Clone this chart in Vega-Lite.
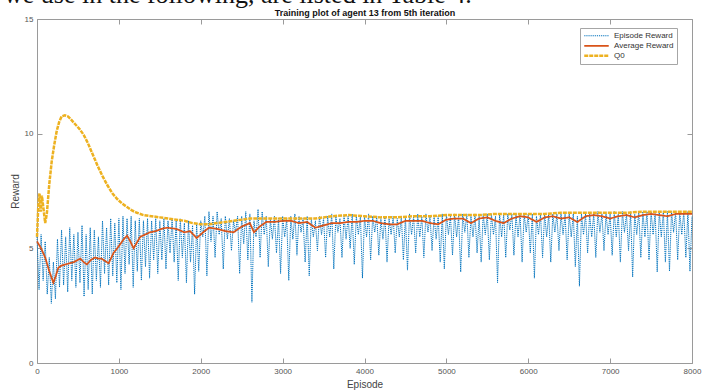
{
  "$schema": "https://vega.github.io/schema/vega-lite/v6.json",
  "width": 655,
  "height": 344,
  "autosize": {"type": "none"},
  "padding": {"left": 37, "top": 19, "right": 23, "bottom": 27},
  "background": "white",
  "title": {"text": "we use in the following, are listed in Table 4.", "anchor": "start", "frame": "group", "dx": -33, "offset": 1, "font": "Liberation Serif", "fontSize": 26, "fontWeight": "normal", "color": "#111111"},
  "config": {
    "font": "Liberation Sans",
    "view": {"stroke": "#9a9a9a", "strokeWidth": 1},
    "axis": {"grid": false, "domain": false, "tickColor": "#9a9a9a", "tickSize": -5, "labelColor": "#555555", "titleColor": "#444444", "labelFontSize": 8, "titleFontSize": 10, "titleFontWeight": "normal", "labelFlush": false, "labelOverlap": false},
    "legend": {"orient": "none", "legendX": 543, "legendY": 9, "title": null, "strokeColor": "#a6a6a6", "fillColor": "white", "padding": 3, "labelFontSize": 8, "labelColor": "#333333", "symbolType": "stroke", "symbolSize": 600, "labelOffset": 4, "rowPadding": 0, "clipHeight": 9.5}
  },
  "data": {"values": [
    {"series":"Episode Reward","episode":0,"reward":5.5},{"series":"Episode Reward","episode":25,"reward":3.2},{"series":"Episode Reward","episode":50,"reward":5.6},{"series":"Episode Reward","episode":75,"reward":3.6},{"series":"Episode Reward","episode":100,"reward":5.3},{"series":"Episode Reward","episode":125,"reward":3.0},{"series":"Episode Reward","episode":150,"reward":4.6},{"series":"Episode Reward","episode":175,"reward":2.6},{"series":"Episode Reward","episode":200,"reward":4.4},{"series":"Episode Reward","episode":225,"reward":2.8},
    {"series":"Episode Reward","episode":250,"reward":5.4},{"series":"Episode Reward","episode":275,"reward":3.3},{"series":"Episode Reward","episode":300,"reward":5.8},{"series":"Episode Reward","episode":325,"reward":3.4},{"series":"Episode Reward","episode":350,"reward":5.5},{"series":"Episode Reward","episode":375,"reward":3.1},{"series":"Episode Reward","episode":400,"reward":5.9},{"series":"Episode Reward","episode":425,"reward":3.6},{"series":"Episode Reward","episode":450,"reward":5.6},{"series":"Episode Reward","episode":475,"reward":3.3},
    {"series":"Episode Reward","episode":500,"reward":5.7},{"series":"Episode Reward","episode":525,"reward":3.5},{"series":"Episode Reward","episode":550,"reward":6.0},{"series":"Episode Reward","episode":575,"reward":2.9},{"series":"Episode Reward","episode":600,"reward":5.6},{"series":"Episode Reward","episode":625,"reward":3.2},{"series":"Episode Reward","episode":650,"reward":5.9},{"series":"Episode Reward","episode":675,"reward":3.0},{"series":"Episode Reward","episode":700,"reward":5.8},{"series":"Episode Reward","episode":725,"reward":3.6},
    {"series":"Episode Reward","episode":750,"reward":5.5},{"series":"Episode Reward","episode":775,"reward":3.3},{"series":"Episode Reward","episode":800,"reward":6.2},{"series":"Episode Reward","episode":825,"reward":3.9},{"series":"Episode Reward","episode":850,"reward":5.9},{"series":"Episode Reward","episode":875,"reward":3.4},{"series":"Episode Reward","episode":900,"reward":6.3},{"series":"Episode Reward","episode":925,"reward":3.8},{"series":"Episode Reward","episode":950,"reward":6.1},{"series":"Episode Reward","episode":975,"reward":3.5},
    {"series":"Episode Reward","episode":1000,"reward":6.3},{"series":"Episode Reward","episode":1025,"reward":3.2},{"series":"Episode Reward","episode":1050,"reward":6.4},{"series":"Episode Reward","episode":1075,"reward":3.9},{"series":"Episode Reward","episode":1100,"reward":6.3},{"series":"Episode Reward","episode":1125,"reward":4.3},{"series":"Episode Reward","episode":1150,"reward":6.4},{"series":"Episode Reward","episode":1175,"reward":3.3},{"series":"Episode Reward","episode":1200,"reward":6.2},{"series":"Episode Reward","episode":1225,"reward":4.0},
    {"series":"Episode Reward","episode":1250,"reward":6.3},{"series":"Episode Reward","episode":1275,"reward":3.6},{"series":"Episode Reward","episode":1300,"reward":6.2},{"series":"Episode Reward","episode":1325,"reward":4.2},{"series":"Episode Reward","episode":1350,"reward":6.3},{"series":"Episode Reward","episode":1375,"reward":3.7},{"series":"Episode Reward","episode":1400,"reward":6.2},{"series":"Episode Reward","episode":1425,"reward":4.5},{"series":"Episode Reward","episode":1450,"reward":6.3},{"series":"Episode Reward","episode":1475,"reward":3.9},
    {"series":"Episode Reward","episode":1500,"reward":6.2},{"series":"Episode Reward","episode":1525,"reward":4.5},{"series":"Episode Reward","episode":1550,"reward":6.3},{"series":"Episode Reward","episode":1575,"reward":4.1},{"series":"Episode Reward","episode":1600,"reward":6.2},{"series":"Episode Reward","episode":1625,"reward":4.8},{"series":"Episode Reward","episode":1650,"reward":6.3},{"series":"Episode Reward","episode":1675,"reward":4.4},{"series":"Episode Reward","episode":1700,"reward":6.2},{"series":"Episode Reward","episode":1725,"reward":3.6},
    {"series":"Episode Reward","episode":1750,"reward":6.3},{"series":"Episode Reward","episode":1775,"reward":4.6},{"series":"Episode Reward","episode":1800,"reward":6.1},{"series":"Episode Reward","episode":1825,"reward":3.5},{"series":"Episode Reward","episode":1850,"reward":6.2},{"series":"Episode Reward","episode":1875,"reward":4.4},{"series":"Episode Reward","episode":1900,"reward":6.0},{"series":"Episode Reward","episode":1925,"reward":3.0},{"series":"Episode Reward","episode":1950,"reward":6.1},{"series":"Episode Reward","episode":1975,"reward":4.0},
    {"series":"Episode Reward","episode":2000,"reward":6.2},{"series":"Episode Reward","episode":2025,"reward":5.5},{"series":"Episode Reward","episode":2050,"reward":6.4},{"series":"Episode Reward","episode":2075,"reward":3.8},{"series":"Episode Reward","episode":2100,"reward":6.6},{"series":"Episode Reward","episode":2125,"reward":5.3},{"series":"Episode Reward","episode":2150,"reward":6.4},{"series":"Episode Reward","episode":2175,"reward":4.6},{"series":"Episode Reward","episode":2200,"reward":6.6},{"series":"Episode Reward","episode":2225,"reward":5.6},
    {"series":"Episode Reward","episode":2250,"reward":6.3},{"series":"Episode Reward","episode":2275,"reward":4.1},{"series":"Episode Reward","episode":2300,"reward":6.4},{"series":"Episode Reward","episode":2325,"reward":5.4},{"series":"Episode Reward","episode":2350,"reward":6.3},{"series":"Episode Reward","episode":2375,"reward":4.9},{"series":"Episode Reward","episode":2400,"reward":6.2},{"series":"Episode Reward","episode":2425,"reward":5.7},{"series":"Episode Reward","episode":2450,"reward":6.4},{"series":"Episode Reward","episode":2475,"reward":3.9},
    {"series":"Episode Reward","episode":2500,"reward":6.4},{"series":"Episode Reward","episode":2525,"reward":5.2},{"series":"Episode Reward","episode":2550,"reward":6.6},{"series":"Episode Reward","episode":2575,"reward":4.5},{"series":"Episode Reward","episode":2600,"reward":6.5},{"series":"Episode Reward","episode":2625,"reward":2.65},{"series":"Episode Reward","episode":2650,"reward":6.2},{"series":"Episode Reward","episode":2675,"reward":5.5},{"series":"Episode Reward","episode":2700,"reward":6.7},{"series":"Episode Reward","episode":2725,"reward":4.6},
    {"series":"Episode Reward","episode":2750,"reward":6.6},{"series":"Episode Reward","episode":2775,"reward":5.6},{"series":"Episode Reward","episode":2800,"reward":6.4},{"series":"Episode Reward","episode":2825,"reward":4.2},{"series":"Episode Reward","episode":2850,"reward":6.3},{"series":"Episode Reward","episode":2875,"reward":5.4},{"series":"Episode Reward","episode":2900,"reward":6.4},{"series":"Episode Reward","episode":2925,"reward":4.8},{"series":"Episode Reward","episode":2950,"reward":6.3},{"series":"Episode Reward","episode":2975,"reward":3.9},
    {"series":"Episode Reward","episode":3000,"reward":6.4},{"series":"Episode Reward","episode":3025,"reward":5.5},{"series":"Episode Reward","episode":3050,"reward":6.3},{"series":"Episode Reward","episode":3075,"reward":3.6},{"series":"Episode Reward","episode":3100,"reward":6.4},{"series":"Episode Reward","episode":3125,"reward":5.4},{"series":"Episode Reward","episode":3150,"reward":6.5},{"series":"Episode Reward","episode":3175,"reward":4.7},{"series":"Episode Reward","episode":3200,"reward":6.4},{"series":"Episode Reward","episode":3225,"reward":5.7},
    {"series":"Episode Reward","episode":3250,"reward":6.3},{"series":"Episode Reward","episode":3275,"reward":4.4},{"series":"Episode Reward","episode":3300,"reward":6.4},{"series":"Episode Reward","episode":3325,"reward":3.8},{"series":"Episode Reward","episode":3350,"reward":6.3},{"series":"Episode Reward","episode":3375,"reward":5.5},{"series":"Episode Reward","episode":3400,"reward":6.2},{"series":"Episode Reward","episode":3425,"reward":4.9},{"series":"Episode Reward","episode":3450,"reward":6.4},{"series":"Episode Reward","episode":3475,"reward":5.6},
    {"series":"Episode Reward","episode":3500,"reward":6.3},{"series":"Episode Reward","episode":3525,"reward":4.6},{"series":"Episode Reward","episode":3550,"reward":6.4},{"series":"Episode Reward","episode":3575,"reward":5.5},{"series":"Episode Reward","episode":3600,"reward":6.5},{"series":"Episode Reward","episode":3625,"reward":4.1},{"series":"Episode Reward","episode":3650,"reward":6.4},{"series":"Episode Reward","episode":3675,"reward":5.7},{"series":"Episode Reward","episode":3700,"reward":6.3},{"series":"Episode Reward","episode":3725,"reward":4.6},
    {"series":"Episode Reward","episode":3750,"reward":6.4},{"series":"Episode Reward","episode":3775,"reward":5.4},{"series":"Episode Reward","episode":3800,"reward":6.4},{"series":"Episode Reward","episode":3825,"reward":5.0},{"series":"Episode Reward","episode":3850,"reward":6.5},{"series":"Episode Reward","episode":3875,"reward":4.3},{"series":"Episode Reward","episode":3900,"reward":6.4},{"series":"Episode Reward","episode":3925,"reward":5.6},{"series":"Episode Reward","episode":3950,"reward":6.4},{"series":"Episode Reward","episode":3975,"reward":3.7},
    {"series":"Episode Reward","episode":4000,"reward":6.4},{"series":"Episode Reward","episode":4025,"reward":5.5},{"series":"Episode Reward","episode":4050,"reward":6.5},{"series":"Episode Reward","episode":4075,"reward":4.5},{"series":"Episode Reward","episode":4100,"reward":6.4},{"series":"Episode Reward","episode":4125,"reward":5.7},{"series":"Episode Reward","episode":4150,"reward":6.4},{"series":"Episode Reward","episode":4175,"reward":4.7},{"series":"Episode Reward","episode":4200,"reward":6.3},{"series":"Episode Reward","episode":4225,"reward":5.4},
    {"series":"Episode Reward","episode":4250,"reward":6.4},{"series":"Episode Reward","episode":4275,"reward":4.4},{"series":"Episode Reward","episode":4300,"reward":6.3},{"series":"Episode Reward","episode":4325,"reward":5.6},{"series":"Episode Reward","episode":4350,"reward":6.4},{"series":"Episode Reward","episode":4375,"reward":4.8},{"series":"Episode Reward","episode":4400,"reward":6.3},{"series":"Episode Reward","episode":4425,"reward":5.5},{"series":"Episode Reward","episode":4450,"reward":6.4},{"series":"Episode Reward","episode":4475,"reward":4.5},
    {"series":"Episode Reward","episode":4500,"reward":6.4},{"series":"Episode Reward","episode":4525,"reward":4.05},{"series":"Episode Reward","episode":4550,"reward":6.5},{"series":"Episode Reward","episode":4575,"reward":5.6},{"series":"Episode Reward","episode":4600,"reward":6.4},{"series":"Episode Reward","episode":4625,"reward":4.8},{"series":"Episode Reward","episode":4650,"reward":6.5},{"series":"Episode Reward","episode":4675,"reward":5.5},{"series":"Episode Reward","episode":4700,"reward":6.4},{"series":"Episode Reward","episode":4725,"reward":4.6},
    {"series":"Episode Reward","episode":4750,"reward":6.5},{"series":"Episode Reward","episode":4775,"reward":5.7},{"series":"Episode Reward","episode":4800,"reward":6.4},{"series":"Episode Reward","episode":4825,"reward":4.9},{"series":"Episode Reward","episode":4850,"reward":6.4},{"series":"Episode Reward","episode":4875,"reward":5.4},{"series":"Episode Reward","episode":4900,"reward":6.4},{"series":"Episode Reward","episode":4925,"reward":4.4},{"series":"Episode Reward","episode":4950,"reward":6.5},{"series":"Episode Reward","episode":4975,"reward":4.1},
    {"series":"Episode Reward","episode":5000,"reward":6.5},{"series":"Episode Reward","episode":5025,"reward":5.6},{"series":"Episode Reward","episode":5050,"reward":6.4},{"series":"Episode Reward","episode":5075,"reward":4.7},{"series":"Episode Reward","episode":5100,"reward":6.5},{"series":"Episode Reward","episode":5125,"reward":5.5},{"series":"Episode Reward","episode":5150,"reward":6.4},{"series":"Episode Reward","episode":5175,"reward":3.97},{"series":"Episode Reward","episode":5200,"reward":6.5},{"series":"Episode Reward","episode":5225,"reward":5.7},
    {"series":"Episode Reward","episode":5250,"reward":6.5},{"series":"Episode Reward","episode":5275,"reward":4.6},{"series":"Episode Reward","episode":5300,"reward":6.4},{"series":"Episode Reward","episode":5325,"reward":5.5},{"series":"Episode Reward","episode":5350,"reward":6.5},{"series":"Episode Reward","episode":5375,"reward":4.8},{"series":"Episode Reward","episode":5400,"reward":6.4},{"series":"Episode Reward","episode":5425,"reward":4.4},{"series":"Episode Reward","episode":5450,"reward":6.5},{"series":"Episode Reward","episode":5475,"reward":5.6},
    {"series":"Episode Reward","episode":5500,"reward":6.5},{"series":"Episode Reward","episode":5525,"reward":4.5},{"series":"Episode Reward","episode":5550,"reward":6.5},{"series":"Episode Reward","episode":5575,"reward":5.6},{"series":"Episode Reward","episode":5600,"reward":6.4},{"series":"Episode Reward","episode":5625,"reward":3.5},{"series":"Episode Reward","episode":5650,"reward":6.5},{"series":"Episode Reward","episode":5675,"reward":5.5},{"series":"Episode Reward","episode":5700,"reward":6.5},{"series":"Episode Reward","episode":5725,"reward":4.6},
    {"series":"Episode Reward","episode":5750,"reward":6.5},{"series":"Episode Reward","episode":5775,"reward":5.8},{"series":"Episode Reward","episode":5800,"reward":6.5},{"series":"Episode Reward","episode":5825,"reward":4.7},{"series":"Episode Reward","episode":5850,"reward":6.5},{"series":"Episode Reward","episode":5875,"reward":5.5},{"series":"Episode Reward","episode":5900,"reward":6.5},{"series":"Episode Reward","episode":5925,"reward":4.4},{"series":"Episode Reward","episode":5950,"reward":6.5},{"series":"Episode Reward","episode":5975,"reward":5.7},
    {"series":"Episode Reward","episode":6000,"reward":6.5},{"series":"Episode Reward","episode":6025,"reward":4.8},{"series":"Episode Reward","episode":6050,"reward":6.5},{"series":"Episode Reward","episode":6075,"reward":3.7},{"series":"Episode Reward","episode":6100,"reward":6.4},{"series":"Episode Reward","episode":6125,"reward":5.6},{"series":"Episode Reward","episode":6150,"reward":6.5},{"series":"Episode Reward","episode":6175,"reward":4.6},{"series":"Episode Reward","episode":6200,"reward":6.5},{"series":"Episode Reward","episode":6225,"reward":5.5},
    {"series":"Episode Reward","episode":6250,"reward":6.5},{"series":"Episode Reward","episode":6275,"reward":4.4},{"series":"Episode Reward","episode":6300,"reward":6.5},{"series":"Episode Reward","episode":6325,"reward":5.7},{"series":"Episode Reward","episode":6350,"reward":6.5},{"series":"Episode Reward","episode":6375,"reward":4.9},{"series":"Episode Reward","episode":6400,"reward":6.5},{"series":"Episode Reward","episode":6425,"reward":5.6},{"series":"Episode Reward","episode":6450,"reward":6.5},{"series":"Episode Reward","episode":6475,"reward":4.5},
    {"series":"Episode Reward","episode":6500,"reward":6.5},{"series":"Episode Reward","episode":6525,"reward":5.5},{"series":"Episode Reward","episode":6550,"reward":6.5},{"series":"Episode Reward","episode":6575,"reward":4.2},{"series":"Episode Reward","episode":6600,"reward":6.4},{"series":"Episode Reward","episode":6625,"reward":3.35},{"series":"Episode Reward","episode":6650,"reward":6.5},{"series":"Episode Reward","episode":6675,"reward":5.6},{"series":"Episode Reward","episode":6700,"reward":6.5},{"series":"Episode Reward","episode":6725,"reward":4.8},
    {"series":"Episode Reward","episode":6750,"reward":6.5},{"series":"Episode Reward","episode":6775,"reward":5.5},{"series":"Episode Reward","episode":6800,"reward":6.5},{"series":"Episode Reward","episode":6825,"reward":4.6},{"series":"Episode Reward","episode":6850,"reward":6.6},{"series":"Episode Reward","episode":6875,"reward":5.7},{"series":"Episode Reward","episode":6900,"reward":6.5},{"series":"Episode Reward","episode":6925,"reward":4.9},{"series":"Episode Reward","episode":6950,"reward":6.5},{"series":"Episode Reward","episode":6975,"reward":5.6},
    {"series":"Episode Reward","episode":7000,"reward":6.5},{"series":"Episode Reward","episode":7025,"reward":4.7},{"series":"Episode Reward","episode":7050,"reward":6.6},{"series":"Episode Reward","episode":7075,"reward":5.5},{"series":"Episode Reward","episode":7100,"reward":6.5},{"series":"Episode Reward","episode":7125,"reward":4.4},{"series":"Episode Reward","episode":7150,"reward":6.6},{"series":"Episode Reward","episode":7175,"reward":5.7},{"series":"Episode Reward","episode":7200,"reward":6.5},{"series":"Episode Reward","episode":7225,"reward":4.9},
    {"series":"Episode Reward","episode":7250,"reward":6.6},{"series":"Episode Reward","episode":7275,"reward":3.75},{"series":"Episode Reward","episode":7300,"reward":6.5},{"series":"Episode Reward","episode":7325,"reward":5.6},{"series":"Episode Reward","episode":7350,"reward":6.6},{"series":"Episode Reward","episode":7375,"reward":4.6},{"series":"Episode Reward","episode":7400,"reward":6.6},{"series":"Episode Reward","episode":7425,"reward":5.5},{"series":"Episode Reward","episode":7450,"reward":6.6},{"series":"Episode Reward","episode":7475,"reward":4.5},
    {"series":"Episode Reward","episode":7500,"reward":6.6},{"series":"Episode Reward","episode":7525,"reward":5.6},{"series":"Episode Reward","episode":7550,"reward":6.6},{"series":"Episode Reward","episode":7575,"reward":3.97},{"series":"Episode Reward","episode":7600,"reward":6.6},{"series":"Episode Reward","episode":7625,"reward":5.5},{"series":"Episode Reward","episode":7650,"reward":6.6},{"series":"Episode Reward","episode":7675,"reward":4.4},{"series":"Episode Reward","episode":7700,"reward":6.6},{"series":"Episode Reward","episode":7725,"reward":4.0},
    {"series":"Episode Reward","episode":7750,"reward":6.6},{"series":"Episode Reward","episode":7775,"reward":5.7},{"series":"Episode Reward","episode":7800,"reward":6.6},{"series":"Episode Reward","episode":7825,"reward":4.5},{"series":"Episode Reward","episode":7850,"reward":6.6},{"series":"Episode Reward","episode":7875,"reward":5.6},{"series":"Episode Reward","episode":7900,"reward":6.6},{"series":"Episode Reward","episode":7925,"reward":4.6},{"series":"Episode Reward","episode":7950,"reward":6.6},{"series":"Episode Reward","episode":7975,"reward":4.0},
    {"series":"Episode Reward","episode":8000,"reward":6.4},

    {"series":"Average Reward","episode":0,"reward":5.3},{"series":"Average Reward","episode":50,"reward":5.0},{"series":"Average Reward","episode":100,"reward":4.6},{"series":"Average Reward","episode":150,"reward":4.0},{"series":"Average Reward","episode":200,"reward":3.5},{"series":"Average Reward","episode":230,"reward":3.8},{"series":"Average Reward","episode":260,"reward":4.15},{"series":"Average Reward","episode":300,"reward":4.25},{"series":"Average Reward","episode":350,"reward":4.3},{"series":"Average Reward","episode":400,"reward":4.35},
    {"series":"Average Reward","episode":450,"reward":4.4},{"series":"Average Reward","episode":500,"reward":4.5},{"series":"Average Reward","episode":530,"reward":4.55},{"series":"Average Reward","episode":570,"reward":4.4},{"series":"Average Reward","episode":610,"reward":4.3},{"series":"Average Reward","episode":660,"reward":4.5},{"series":"Average Reward","episode":710,"reward":4.6},{"series":"Average Reward","episode":750,"reward":4.55},{"series":"Average Reward","episode":790,"reward":4.55},{"series":"Average Reward","episode":830,"reward":4.45},
    {"series":"Average Reward","episode":875,"reward":4.35},{"series":"Average Reward","episode":935,"reward":4.8},{"series":"Average Reward","episode":980,"reward":5.0},{"series":"Average Reward","episode":1020,"reward":5.2},{"series":"Average Reward","episode":1060,"reward":5.4},{"series":"Average Reward","episode":1100,"reward":5.55},{"series":"Average Reward","episode":1140,"reward":5.3},{"series":"Average Reward","episode":1180,"reward":5.0},{"series":"Average Reward","episode":1220,"reward":5.25},{"series":"Average Reward","episode":1260,"reward":5.5},
    {"series":"Average Reward","episode":1320,"reward":5.6},{"series":"Average Reward","episode":1380,"reward":5.7},{"series":"Average Reward","episode":1450,"reward":5.75},{"series":"Average Reward","episode":1520,"reward":5.85},{"series":"Average Reward","episode":1590,"reward":5.9},{"series":"Average Reward","episode":1700,"reward":5.85},{"series":"Average Reward","episode":1800,"reward":5.7},{"series":"Average Reward","episode":1870,"reward":5.75},{"series":"Average Reward","episode":1950,"reward":5.45},{"series":"Average Reward","episode":2030,"reward":5.7},
    {"series":"Average Reward","episode":2100,"reward":5.9},{"series":"Average Reward","episode":2200,"reward":5.85},{"series":"Average Reward","episode":2300,"reward":5.75},{"series":"Average Reward","episode":2400,"reward":5.7},{"series":"Average Reward","episode":2500,"reward":5.95},{"series":"Average Reward","episode":2600,"reward":6.1},{"series":"Average Reward","episode":2650,"reward":5.7},{"series":"Average Reward","episode":2720,"reward":5.95},{"series":"Average Reward","episode":2800,"reward":6.15},{"series":"Average Reward","episode":2900,"reward":6.15},
    {"series":"Average Reward","episode":3000,"reward":6.2},{"series":"Average Reward","episode":3100,"reward":6.2},{"series":"Average Reward","episode":3200,"reward":6.1},{"series":"Average Reward","episode":3300,"reward":6.15},{"series":"Average Reward","episode":3400,"reward":5.9},{"series":"Average Reward","episode":3500,"reward":6.0},{"series":"Average Reward","episode":3600,"reward":6.1},{"series":"Average Reward","episode":3700,"reward":6.1},{"series":"Average Reward","episode":3800,"reward":6.15},{"series":"Average Reward","episode":3900,"reward":6.15},
    {"series":"Average Reward","episode":4000,"reward":6.2},{"series":"Average Reward","episode":4100,"reward":6.2},{"series":"Average Reward","episode":4200,"reward":6.1},{"series":"Average Reward","episode":4300,"reward":6.05},{"series":"Average Reward","episode":4400,"reward":6.05},{"series":"Average Reward","episode":4500,"reward":6.2},{"series":"Average Reward","episode":4600,"reward":6.2},{"series":"Average Reward","episode":4700,"reward":6.2},{"series":"Average Reward","episode":4800,"reward":6.1},{"series":"Average Reward","episode":4900,"reward":6.05},
    {"series":"Average Reward","episode":5000,"reward":6.25},{"series":"Average Reward","episode":5100,"reward":6.3},{"series":"Average Reward","episode":5200,"reward":6.3},{"series":"Average Reward","episode":5300,"reward":6.1},{"series":"Average Reward","episode":5400,"reward":6.3},{"series":"Average Reward","episode":5500,"reward":6.35},{"series":"Average Reward","episode":5600,"reward":6.2},{"series":"Average Reward","episode":5700,"reward":6.1},{"series":"Average Reward","episode":5800,"reward":6.3},{"series":"Average Reward","episode":5900,"reward":6.4},
    {"series":"Average Reward","episode":6000,"reward":6.35},{"series":"Average Reward","episode":6100,"reward":6.15},{"series":"Average Reward","episode":6200,"reward":6.35},{"series":"Average Reward","episode":6300,"reward":6.4},{"series":"Average Reward","episode":6400,"reward":6.3},{"series":"Average Reward","episode":6500,"reward":6.35},{"series":"Average Reward","episode":6600,"reward":6.15},{"series":"Average Reward","episode":6700,"reward":6.4},{"series":"Average Reward","episode":6800,"reward":6.45},{"series":"Average Reward","episode":6900,"reward":6.4},
    {"series":"Average Reward","episode":7000,"reward":6.3},{"series":"Average Reward","episode":7100,"reward":6.4},{"series":"Average Reward","episode":7200,"reward":6.45},{"series":"Average Reward","episode":7300,"reward":6.35},{"series":"Average Reward","episode":7400,"reward":6.45},{"series":"Average Reward","episode":7500,"reward":6.5},{"series":"Average Reward","episode":7600,"reward":6.45},{"series":"Average Reward","episode":7700,"reward":6.4},{"series":"Average Reward","episode":7800,"reward":6.5},{"series":"Average Reward","episode":7900,"reward":6.5},
    {"series":"Average Reward","episode":8000,"reward":6.5},

    {"series":"Q0","episode":0,"reward":5.5},{"series":"Q0","episode":15,"reward":6.8},{"series":"Q0","episode":30,"reward":7.4},{"series":"Q0","episode":45,"reward":6.6},{"series":"Q0","episode":60,"reward":7.3},{"series":"Q0","episode":80,"reward":6.7},{"series":"Q0","episode":100,"reward":6.1},{"series":"Q0","episode":120,"reward":6.5},{"series":"Q0","episode":150,"reward":7.8},{"series":"Q0","episode":180,"reward":8.8},
    {"series":"Q0","episode":210,"reward":9.5},{"series":"Q0","episode":240,"reward":10.1},{"series":"Q0","episode":270,"reward":10.5},{"series":"Q0","episode":300,"reward":10.75},{"series":"Q0","episode":340,"reward":10.8},{"series":"Q0","episode":380,"reward":10.75},{"series":"Q0","episode":420,"reward":10.6},{"series":"Q0","episode":470,"reward":10.4},{"series":"Q0","episode":520,"reward":10.2},{"series":"Q0","episode":570,"reward":9.95},
    {"series":"Q0","episode":620,"reward":9.6},{"series":"Q0","episode":680,"reward":9.1},{"series":"Q0","episode":740,"reward":8.6},{"series":"Q0","episode":800,"reward":8.15},{"series":"Q0","episode":860,"reward":7.75},{"series":"Q0","episode":920,"reward":7.4},{"series":"Q0","episode":980,"reward":7.15},{"series":"Q0","episode":1040,"reward":6.95},{"series":"Q0","episode":1100,"reward":6.8},{"series":"Q0","episode":1160,"reward":6.65},
    {"series":"Q0","episode":1220,"reward":6.55},{"series":"Q0","episode":1300,"reward":6.45},{"series":"Q0","episode":1400,"reward":6.4},{"series":"Q0","episode":1500,"reward":6.35},{"series":"Q0","episode":1600,"reward":6.3},{"series":"Q0","episode":1700,"reward":6.25},{"series":"Q0","episode":1800,"reward":6.2},{"series":"Q0","episode":1900,"reward":6.1},{"series":"Q0","episode":2000,"reward":6.05},{"series":"Q0","episode":2100,"reward":6.05},
    {"series":"Q0","episode":2200,"reward":6.1},{"series":"Q0","episode":2300,"reward":6.15},{"series":"Q0","episode":2400,"reward":6.2},{"series":"Q0","episode":2500,"reward":6.25},{"series":"Q0","episode":2600,"reward":6.3},{"series":"Q0","episode":2800,"reward":6.3},{"series":"Q0","episode":3000,"reward":6.3},{"series":"Q0","episode":3200,"reward":6.3},{"series":"Q0","episode":3400,"reward":6.3},{"series":"Q0","episode":3600,"reward":6.4},
    {"series":"Q0","episode":3800,"reward":6.45},{"series":"Q0","episode":4000,"reward":6.4},{"series":"Q0","episode":4200,"reward":6.35},{"series":"Q0","episode":4400,"reward":6.35},{"series":"Q0","episode":4600,"reward":6.4},{"series":"Q0","episode":4800,"reward":6.4},{"series":"Q0","episode":5000,"reward":6.45},{"series":"Q0","episode":5200,"reward":6.45},{"series":"Q0","episode":5400,"reward":6.45},{"series":"Q0","episode":5600,"reward":6.5},
    {"series":"Q0","episode":5800,"reward":6.5},{"series":"Q0","episode":6000,"reward":6.5},{"series":"Q0","episode":6200,"reward":6.5},{"series":"Q0","episode":6400,"reward":6.55},{"series":"Q0","episode":6600,"reward":6.55},{"series":"Q0","episode":6800,"reward":6.55},{"series":"Q0","episode":7000,"reward":6.55},{"series":"Q0","episode":7200,"reward":6.55},{"series":"Q0","episode":7400,"reward":6.6},{"series":"Q0","episode":7600,"reward":6.6},
    {"series":"Q0","episode":7800,"reward":6.6},{"series":"Q0","episode":8000,"reward":6.6}
  ]},
  "encoding": {
    "color": {"field": "series", "type": "nominal", "scale": {"domain": ["Episode Reward", "Average Reward", "Q0"], "range": ["#0072BD", "#D95319", "#EDB120"]}},
    "strokeDash": {"field": "series", "type": "nominal", "scale": {"domain": ["Episode Reward", "Average Reward", "Q0"], "range": [[1.2, 0.9], [1, 0], [4, 1]]}},
    "strokeWidth": {"field": "series", "type": "nominal", "scale": {"domain": ["Episode Reward", "Average Reward", "Q0"], "range": [1, 2.5, 2.6]}}
  },
  "layer": [
    {
      "transform": [{"filter": "datum.series === 'Episode Reward'"}],
      "mark": {"type": "line"},
      "encoding": {
        "x": {"field": "episode", "type": "quantitative", "scale": {"domain": [0, 8000], "nice": false}, "axis": {"orient": "bottom", "values": [0, 1000, 2000, 3000, 4000, 5000, 6000, 7000, 8000], "title": "Episode", "labelPadding": 9, "titlePadding": 4, "format": "d"}},
        "y": {"field": "reward", "type": "quantitative", "scale": {"domain": [0, 15], "nice": false}, "axis": {"orient": "left", "values": [0, 5, 10, 15], "title": "Reward", "labelPadding": 9, "titlePadding": 4}}
      }
    },
    {
      "transform": [{"filter": "datum.series === 'Average Reward'"}],
      "mark": {"type": "line"},
      "encoding": {
        "x": {"field": "episode", "type": "quantitative", "scale": {"domain": [0, 8000], "nice": false}, "axis": {"orient": "top", "values": [0, 1000, 2000, 3000, 4000, 5000, 6000, 7000, 8000], "labels": false, "title": "Training plot of agent 13 from 5th iteration", "titleFontWeight": "bold", "titleFontSize": 9, "titleColor": "#111111", "titlePadding": 1}},
        "y": {"field": "reward", "type": "quantitative", "scale": {"domain": [0, 15], "nice": false}, "axis": {"orient": "right", "values": [0, 5, 10, 15], "labels": false, "title": null}}
      }
    },
    {
      "transform": [{"filter": "datum.series === 'Q0'"}],
      "mark": {"type": "line"},
      "encoding": {
        "x": {"field": "episode", "type": "quantitative", "scale": {"domain": [0, 8000], "nice": false}, "axis": null},
        "y": {"field": "reward", "type": "quantitative", "scale": {"domain": [0, 15], "nice": false}, "axis": null}
      }
    }
  ],
  "resolve": {"axis": {"x": "independent", "y": "independent"}}
}
